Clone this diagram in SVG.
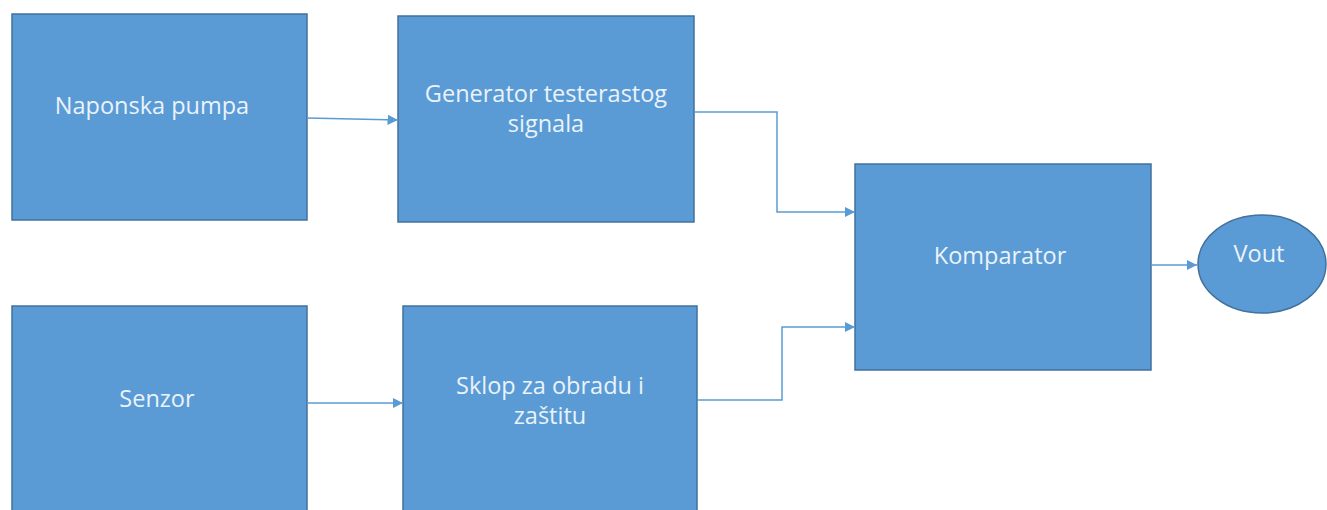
<svg xmlns="http://www.w3.org/2000/svg" width="1327" height="510" viewBox="0 0 1327 510">
<style>
.box{fill:#5B9BD5;stroke:#41719C;stroke-width:1.5}
.lbl{fill:#EAF3FB;font-family:"Open Sans","Noto Sans",sans-serif;font-size:23.5px;text-anchor:middle;dominant-baseline:central}
.con{fill:none;stroke:#5B9BD5;stroke-width:1.5}
</style>
<defs>
<marker id="ah" viewBox="0 0 10 10" refX="10" refY="5" markerWidth="7" markerHeight="7" markerUnits="strokeWidth" orient="auto">
<path d="M0,0 L10,5 L0,10 z" fill="#5B9BD5"/>
</marker>
</defs>
<rect width="1327" height="510" fill="#ffffff"/>
<g id="naponska">
<rect class="box" x="12" y="14" width="295" height="206"/>
<text class="lbl" x="152" y="105">Naponska pumpa</text>
</g>
<g id="generator">
<rect class="box" x="398" y="16" width="296" height="206"/>
<text class="lbl" x="546" y="93">Generator testerastog</text>
<text class="lbl" x="546" y="123">signala</text>
</g>
<g id="komparator">
<rect class="box" x="855" y="164" width="296" height="206"/>
<text class="lbl" x="1000" y="255">Komparator</text>
</g>
<g id="vout">
<ellipse class="box" cx="1262" cy="264" rx="64" ry="49"/>
<text class="lbl" x="1259" y="253">Vout</text>
</g>
<g id="senzor">
<rect class="box" x="12" y="306" width="295" height="220"/>
<text class="lbl" x="157" y="398">Senzor</text>
</g>
<g id="sklop">
<rect class="box" x="403" y="306" width="294" height="220"/>
<text class="lbl" x="550" y="385">Sklop za obradu i</text>
<text class="lbl" x="550" y="415">zaštitu</text>
</g>
<g id="connectors">
<path class="con" d="M307,118 L398,120" marker-end="url(#ah)"/>
<path class="con" d="M694,112 H777 V212 H855" marker-end="url(#ah)"/>
<path class="con" d="M307,403 L403,403" marker-end="url(#ah)"/>
<path class="con" d="M697,400 H782 V327 H855" marker-end="url(#ah)"/>
<path class="con" d="M1151,265 H1197" marker-end="url(#ah)"/>
</g>
</svg>
